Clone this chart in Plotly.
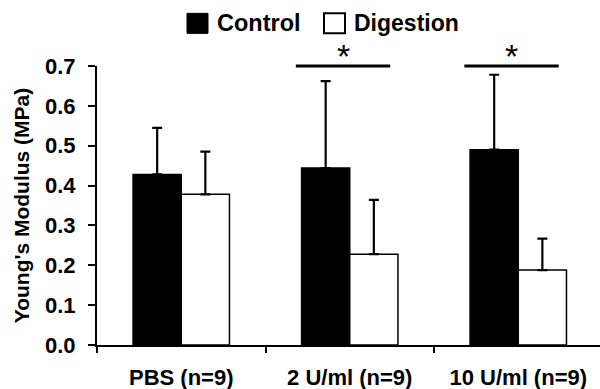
import plotly.graph_objects as go

categories = ["PBS (n=9)", "2 U/ml (n=9)", "10 U/ml (n=9)"]
control = [0.428, 0.444, 0.490]
control_err = [0.117, 0.218, 0.188]
digestion = [0.378, 0.228, 0.188]
digestion_err = [0.107, 0.136, 0.079]
significant = [1, 2]  # category indices marked with *
y_ticks = [0.0, 0.1, 0.2, 0.3, 0.4, 0.5, 0.6, 0.7]

FONT = "Arial, Liberation Sans, sans-serif"

def err(vals):
    return dict(type="data", symmetric=False, array=vals, arrayminus=[0] * len(vals),
                color="black", thickness=2.2, width=5)

fig = go.Figure()
fig.add_trace(go.Bar(x=categories, y=control, name="Control",
                     marker=dict(color="black", line=dict(color="black", width=1.5)),
                     error_y=err(control_err)))
fig.add_trace(go.Bar(x=categories, y=digestion, name="Digestion",
                     marker=dict(color="white", line=dict(color="black", width=1.5)),
                     error_y=err(digestion_err)))

shapes = []
annotations = []
for i in significant:
    shapes.append(dict(type="line", xref="x", yref="paper", x0=i - 0.32, x1=i + 0.24,
                       y0=1, y1=1, line=dict(color="black", width=3)))
    annotations.append(dict(xref="x", yref="paper", x=i - 0.04, y=1, yshift=10,
                            xanchor="center", yanchor="middle",
                            text="*", showarrow=False,
                            font=dict(family=FONT, size=34, color="black")))

# custom legend
PH = 279.3
shapes.append(dict(type="rect", xref="paper", yref="paper",
                   x0=(187 - 97) / 503, x1=(208 - 97) / 503,
                   y0=(345 - 33) / PH, y1=(345 - 13) / PH,
                   fillcolor="black", line=dict(color="black", width=1)))
shapes.append(dict(type="rect", xref="paper", yref="paper",
                   x0=(324 - 97) / 503, x1=(345 - 97) / 503,
                   y0=(345 - 33) / PH, y1=(345 - 13) / PH,
                   fillcolor="white", line=dict(color="black", width=2)))
annotations.append(dict(xref="paper", yref="paper", x=(215 - 97) / 503, y=(345 - 23) / PH,
                        xanchor="left", yanchor="middle", text="<b>Control</b>", showarrow=False,
                        font=dict(family=FONT, size=23.5, color="black")))
annotations.append(dict(xref="paper", yref="paper", x=(352 - 97) / 503, y=(345 - 23) / PH,
                        xanchor="left", yanchor="middle", text="<b>Digestion</b>", showarrow=False,
                        font=dict(family=FONT, size=23, color="black")))

fig.update_layout(
    width=600, height=389,
    margin=dict(l=97, r=0, t=66, b=44),
    paper_bgcolor="white", plot_bgcolor="white",
    barmode="group", bargap=0.428, bargroupgap=0,
    showlegend=False,
    shapes=shapes, annotations=annotations,
    font=dict(family=FONT, color="black"),
)
fig.update_xaxes(range=[-0.5, 2.485], showline=True, linecolor="black", linewidth=2,
                 ticks="outside", tickson="boundaries", ticklen=6, tickwidth=2, tickcolor="black",
                 tickfont=dict(family=FONT, size=22, color="black", weight="bold"),
                 ticklabelstandoff=12, showgrid=False, zeroline=False)
fig.update_yaxes(range=[0, 0.7], tickvals=y_ticks, ticktext=[f"{v:.1f}" for v in y_ticks],
                 showline=True, linecolor="black", linewidth=2,
                 ticks="outside", ticklen=7, tickwidth=2, tickcolor="black",
                 tickfont=dict(family=FONT, size=22, color="black", weight="bold"),
                 ticklabelstandoff=8, showgrid=False, zeroline=False,
                 title=dict(text="<b>Young's Modulus (MPa)</b>", standoff=10,
                            font=dict(family=FONT, size=21, color="black")))

fig.write_html("out.html")
